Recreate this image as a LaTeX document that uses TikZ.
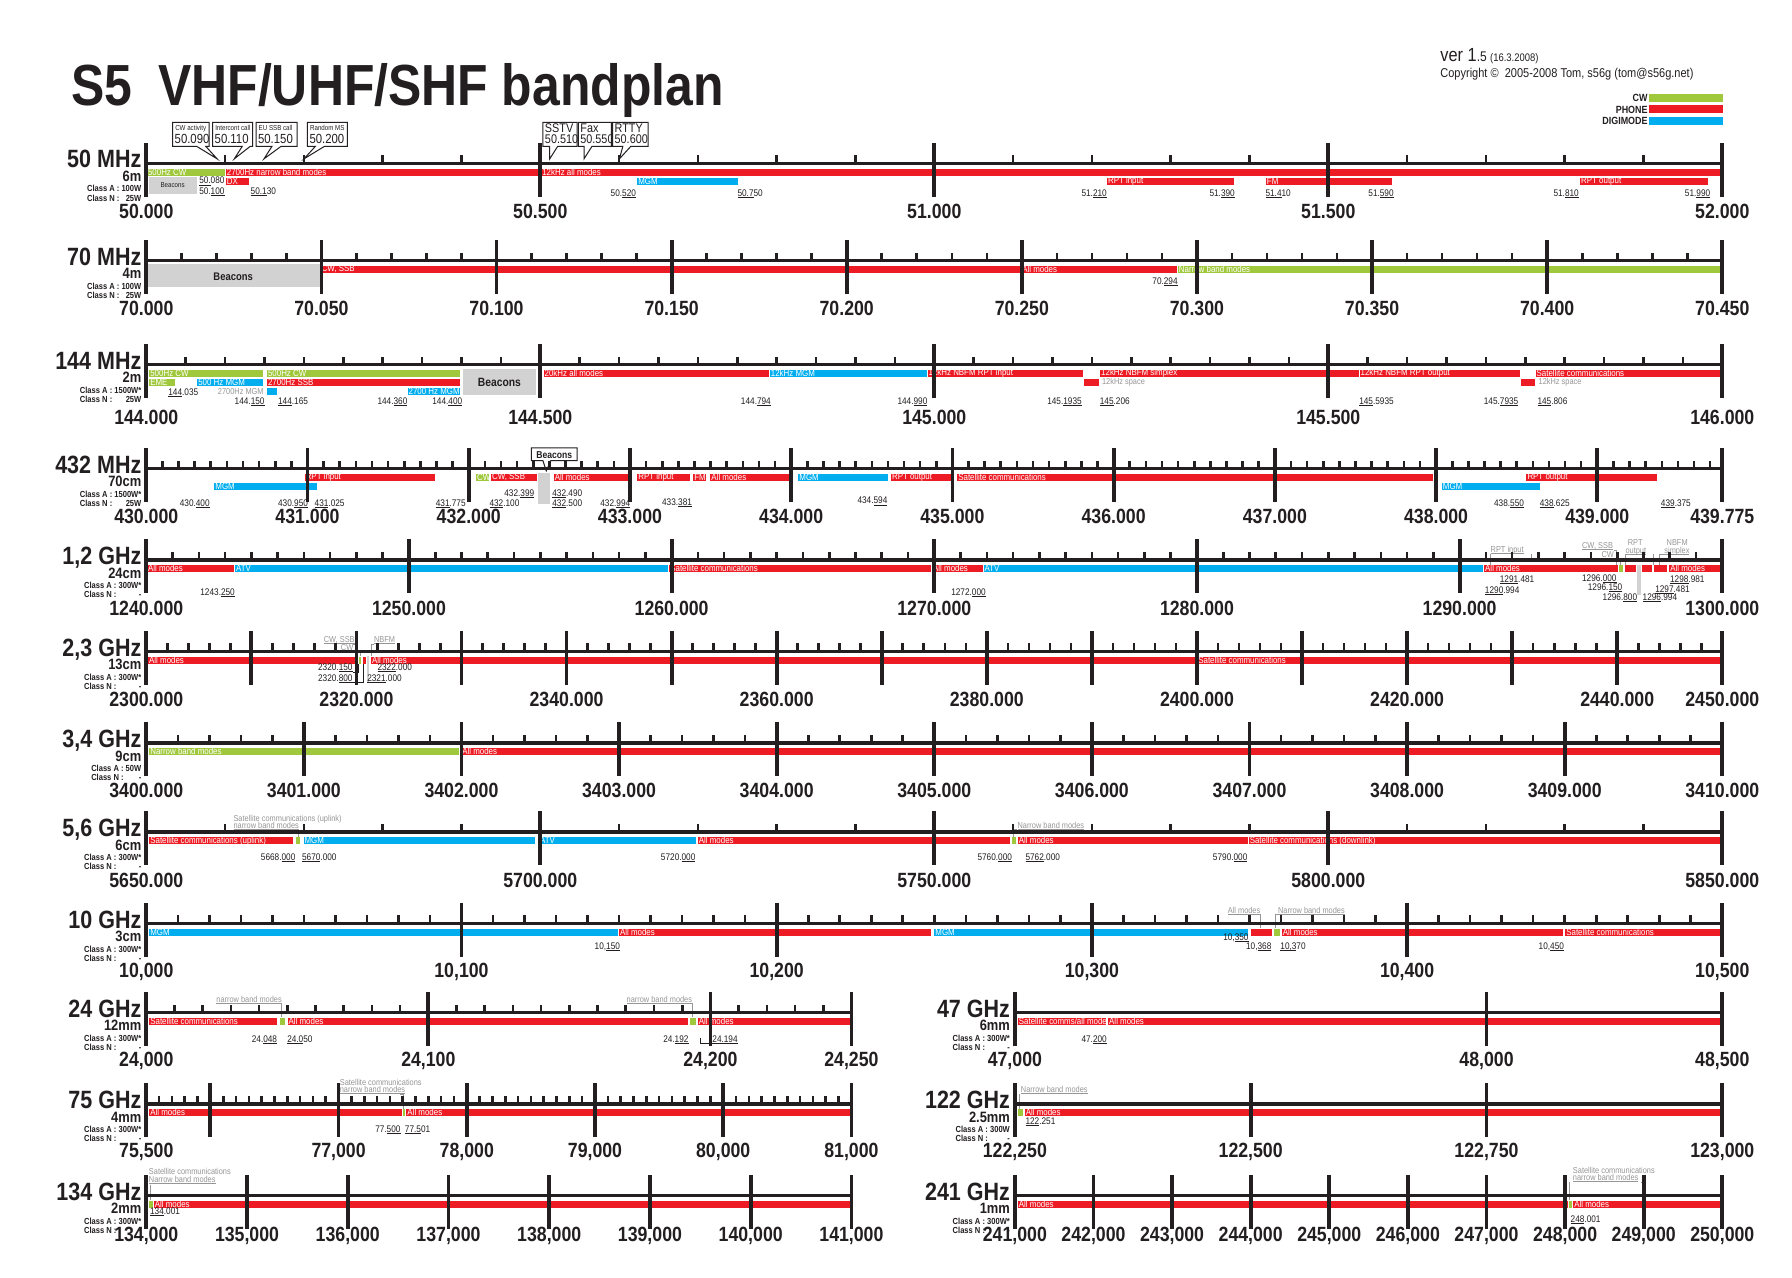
\documentclass[tikz,border=0pt]{standalone}
\usepackage{fontspec}
\setmainfont{Liberation Sans}
\newfontfamily\cf[FakeStretch=0.86]{Liberation Sans}
\definecolor{ink}{RGB}{35,31,32}
\definecolor{cwg}{RGB}{160,200,60}
\definecolor{phr}{RGB}{237,28,36}
\definecolor{dgb}{RGB}{0,174,239}
\definecolor{bcn}{RGB}{210,210,210}
\definecolor{agr}{RGB}{150,150,150}
\newcommand\fs[1]{\fontsize{#1}{#1}\selectfont}
\newlength\ulw
\newcommand\ulx[1]{\settowidth\ulw{#1}\rlap{\rule[-0.6pt]{\ulw}{0.3pt}}#1\relax}
\tikzset{
 xaxis/.style={draw=ink,line width=1.7pt},
 btick/.style={draw=ink,line width=1.9pt},
 stick/.style={draw=ink,line width=1.3pt},
 flab/.style={font=\cf\bfseries\fs{10.3},text=ink,inner sep=0pt},
 bname/.style={font=\cf\bfseries\fs{12.5},text=ink,inner sep=0pt,anchor=base east},
 wlab/.style={font=\cf\bfseries\fs{7.5},text=ink,inner sep=0pt,anchor=base east},
 clab/.style={font=\cf\bfseries\fs{4.4},text=ink,inner sep=0pt},
 btxt/.style={font=\cf\fs{4.6},text=white,inner sep=0pt,anchor=west},
 nlab/.style={font=\cf\fs{4.8},text=ink,inner sep=0pt,anchor=base west},
 anno/.style={font=\cf\fs{4.3},text=agr,inner sep=0pt,anchor=base west},
 aline/.style={draw=agr,line width=0.45pt},
 cbox/.style={draw=ink,line width=0.5pt,fill=white},
 barfill/.style={draw=white,line width=0.3pt},
}
% bar: x1 x2 row colour text
\newcommand\B[5]{%
 \fill[#4,barfill] (#1,{\Y+4+8*(#3-1)}) rectangle (#2,{\Y+11+8*(#3-1)});
 \node[btxt] at ({#1+1.2},{\Y+7.6+8*(#3-1)}) {#5};}
\newcommand\NL[3]{\node[nlab] at (#1,{\Y+#2}) {#3};}
\newcommand\AN[3]{\node[anno] at (#1,{\Y+#2}) {#3};}
\newcommand\axl[2]{\draw[xaxis] (#1,\Y) -- (#2,\Y);}
\newcommand\smallticks[3]{\foreach \i in {0,...,#3} {\draw[stick] ({#1+\i*#2},\Y) -- ({#1+\i*#2},{\Y-7});}}
\newcommand\bigticks[3]{\foreach \i in {0,...,#3} {\draw[btick] ({#1+\i*#2},{\Y-18}) -- ({#1+\i*#2},{\Y+29});}}
\newcommand\bt[1]{\draw[btick] (#1,{\Y-18}) -- (#1,{\Y+29});}
\def\FLoff{42}
\newcommand\FL[2]{\node[flab] at (#1,{\Y+\FLoff}) {#2};}
\newcommand\BN[6]{%
 \node[bname] at (#1,{\Y+4}) {#2};
 \node[wlab] at (#1,{\Y+16}) {#3};
 \node[clab,anchor=base east] (ca) at (#1,{\Y+25}) {#4};
 \path (ca.base west) ++(0,8) node[clab,anchor=base west] {#5};
 \node[clab,anchor=base east] at (#1,{\Y+33}) {#6};}
% callout: x1 x2 tailbase1 tailbase2 tip small big
\newcommand\CO[7]{%
 \draw[cbox] (#1,107) -- (#2,107) -- (#2,128) -- (#4,128) -- (#5,139) -- (#3,128) -- (#1,128) -- cycle;
 \node[font=\cf\fs{3.6},text=ink,anchor=base west,inner sep=0] at ({#1+2},114) {#6};
 \node[font=\cf\fs{6.6},text=ink,anchor=base west,inner sep=0] at ({#1+1.5},125.5) {#7};}
\newcommand\COb[7]{%
 \draw[cbox] (#1,107) -- (#2,107) -- (#2,128) -- (#4,128) -- (#5,139) -- (#3,128) -- (#1,128) -- cycle;
 \node[font=\cf\fs{6.3},text=ink,anchor=base west,inner sep=0] at ({#1+1.5},116) {#6};
 \node[font=\cf\fs{6.3},text=ink,anchor=base west,inner sep=0] at ({#1+1.5},125.5) {#7};}

\begin{document}
\begin{tikzpicture}[x=0.5714pt,y=-0.5714pt]
\let\underline\ulx
\useasboundingbox (0,0) rectangle (1568,1118);
\fill[white] (0,0) rectangle (1568,1118);

% ---------- header
\node[font=\cf\bfseries\fs{29},text=ink,anchor=base west,inner sep=0] (title) at (62,92) {S5\hspace{0.45em}VHF/UHF/SHF bandplan};
\node[anchor=base west,inner sep=0,text=ink] (ver) at (1260,54) {\cf\fs{9.5}ver 1\fs{7}.5 \fs{5.5}(16.3.2008)};
\node[anchor=base west,inner sep=0,text=ink,font=\cf\fs{6.4}] (copy) at (1260,68) {Copyright \textcopyright\ \ 2005-2008 Tom, s56g (tom@s56g.net)};
\node[clab,font=\cf\bfseries\fs{5.2},anchor=base east] (lcw) at (1442,89) {CW};
\fill[cwg] (1443,82) rectangle (1508,89);
\node[clab,font=\cf\bfseries\fs{5.2},anchor=base east] (lph) at (1442,99) {PHONE};
\fill[phr] (1443,92) rectangle (1508,99);
\node[clab,font=\cf\bfseries\fs{5.2},anchor=base east] (ldg) at (1442,109) {DIGIMODE};
\fill[dgb] (1443,102) rectangle (1508,109);

% ================= 50 MHz
\def\Y{143}
\B{128}{197}{1}{cwg}{500Hz CW}
\B{197}{473}{1}{phr}{2700Hz narrow band modes}
\B{473}{1507}{1}{phr}{12kHz all modes}
\fill[bcn] (130,{\Y+12}) rectangle (172,{\Y+27});
\node[font=\cf\fs{3.6},text=ink,inner sep=0] at (151,{\Y+19}) {Beacons};
\B{197}{218}{2}{phr}{DX}
\B{557}{646}{2}{dgb}{MGM}
\B{968}{1080}{2}{phr}{RPT input}
\B{1107}{1218}{2}{phr}{FM}
\B{1382}{1495}{2}{phr}{RPT output}
\NL{174}{18}{\underline{50.}080}
\NL{174}{27}{50.\underline{100}}
\NL{219}{27}{\underline{50.1}30}
\NL{534}{29}{50.\underline{520}}
\NL{645}{29}{\underline{50.7}50}
\NL{946}{29}{51.\underline{210}}
\NL{1058}{29}{51.\underline{390}}
\NL{1107}{29}{\underline{51.4}10}
\NL{1197}{29}{51.\underline{590}}
\NL{1359}{29}{51.\underline{810}}
\NL{1474}{29}{51.\underline{990}}
\axl{128}{1507}
\smallticks{128}{68.95}{20}
\bigticks{128}{344.75}{4}
\foreach \i/\t in {0/50.000,1/50.500,2/51.000,3/51.500,4/52.000} {\FL{{128+\i*344.75}}{\t}}
\BN{124}{50 MHz}{6m}{Class A : 100W}{Class N :}{25W}
\CO{151}{183}{172}{180}{190}{CW activity}{50.090}
\CO{186}{221}{212}{219}{205}{Intercont call}{50.110}
\CO{224}{260}{238}{246}{231}{EU SSB call}{50.150}
\CO{269}{304}{276}{284}{266}{Random MS}{50.200}
\COb{475}{505}{481}{488}{481}{SSTV}{50.510}
\COb{506}{535}{511}{518}{511}{Fax}{50.550}
\COb{536}{567}{545}{552}{542}{RTTY}{50.600}

% ================= 70 MHz
\def\Y{228}
\fill[bcn] (128,{\Y+3}) rectangle (280,{\Y+23});
\node[font=\cf\bfseries\fs{5.5},text=ink,inner sep=0] at (204,{\Y+14}) {Beacons};
\B{280}{893}{1}{phr}{CW, SSB}
\B{893}{1030}{1}{phr}{All modes}
\B{1030}{1507}{1}{cwg}{Narrow band modes}
\NL{1008}{21}{70.\underline{294}}
\axl{128}{1507}
\smallticks{128}{30.6444}{45}
\bigticks{128}{153.222}{9}
\foreach \i/\t in {0/70.000,1/70.050,2/70.100,3/70.150,4/70.200,5/70.250,6/70.300,7/70.350,8/70.400,9/70.450} {\FL{{128+\i*153.222}}{\t}}
\BN{124}{70 MHz}{4m}{Class A : 100W}{Class N :}{25W}

% ================= 144 MHz
\def\Y{319}
\B{130}{230}{1}{cwg}{500Hz CW}
\B{233}{403}{1}{cwg}{500Hz CW}
\B{475}{673}{1}{phr}{20kHz all modes}
\B{673}{811}{1}{dgb}{12kHz MGM}
\B{811}{948}{1}{phr}{12kHz NBFM RPT input}
\B{962}{1189}{1}{phr}{12kHz NBFM simplex}
\B{1189}{1330}{1}{phr}{12kHz NBFM RPT output}
\B{1343}{1507}{1}{phr}{Satellite communications}
\B{130}{153}{2}{cwg}{EME}
\B{172}{230}{2}{dgb}{500 Hz MGM}
\B{233}{403}{2}{phr}{2700Hz SSB}
\B{948}{962}{2}{phr}{}
\AN{964}{17.5}{12kHz space}
\B{1330}{1343}{2}{phr}{}
\AN{1346}{17.5}{12kHz space}
\B{233}{243}{3}{dgb}{}
\node[anno,anchor=base east] at (231,{\Y+26}) {2700Hz MGM};
\B{356}{403}{3}{dgb}{2700 Hz MGM}
\fill[bcn] (405,{\Y+4}) rectangle (469,{\Y+27});
\node[font=\cf\bfseries\fs{6},text=ink,inner sep=0] at (437,{\Y+16}) {Beacons};
\NL{147}{27}{\underline{144}.035}
\NL{205}{35}{144.\underline{150}}
\NL{243}{35}{\underline{144}.165}
\NL{330}{35}{144.\underline{360}}
\NL{378}{35}{144.\underline{400}}
\NL{648}{35}{144.\underline{794}}
\NL{785}{35}{144.\underline{990}}
\NL{916}{35}{145.\underline{1935}}
\NL{962}{35}{\underline{145}.206}
\NL{1189}{35}{\underline{145}.5935}
\NL{1298}{35}{145.\underline{7935}}
\NL{1345}{35}{\underline{145}.806}
\axl{128}{1507}
\smallticks{128}{34.475}{40}
\bigticks{128}{344.75}{4}
\def\FLoff{46}
\foreach \i/\t in {0/144.000,1/144.500,2/145.000,3/145.500,4/146.000} {\FL{{128+\i*344.75}}{\t}}
\def\FLoff{42}
\BN{124}{144 MHz}{2m}{Class A : 1500W*}{Class N :}{25W}

% ================= 432 MHz
\def\Y{410}
\B{266}{381}{1}{phr}{RPT input}
\B{416}{428}{1}{cwg}{CW}
\B{429}{470}{1}{phr}{CW, SSB}
\B{484}{551}{1}{phr}{All modes}
\B{557}{604}{1}{phr}{RPT input}
\B{606}{618}{1}{phr}{FM}
\B{621}{691}{1}{phr}{All modes}
\B{698}{777}{1}{dgb}{MGM}
\B{779}{833}{1}{phr}{RPT output}
\B{837}{1254}{1}{phr}{Satellite communications}
\B{1335}{1450}{1}{phr}{RPT output}
\B{187}{278}{2}{dgb}{MGM}
\B{1261}{1348}{2}{dgb}{MGM}
\fill[bcn] (471,{\Y+4}) rectangle (481,{\Y+31});
\draw[cbox] (465,392) -- (505,392) -- (505,403) -- (482,403) -- (478,412) -- (475,403) -- (465,403) -- cycle;
\node[font=\cf\bfseries\fs{5},text=ink,inner sep=0] at (485,397.8) {Beacons};
\NL{157}{33}{430.\underline{400}}
\NL{243}{33}{430.\underline{950}}
\NL{275}{33}{\underline{431}.025}
\NL{381}{33}{\underline{431}.775}
\NL{428}{33}{\underline{432}.100}
\NL{441}{24}{432.\underline{399}}
\NL{483}{24}{\underline{432}.490}
\NL{483}{33}{\underline{432}.500}
\NL{525}{33}{432.\underline{994}}
\NL{579}{32}{433.\underline{381}}
\NL{750}{31}{434.\underline{594}}
\NL{1307}{33}{438.\underline{550}}
\NL{1347}{33}{\underline{438}.625}
\NL{1453}{33}{\underline{439}.375}
\axl{128}{1507}
\smallticks{128}{14.107}{97}
\bigticks{128}{141.07}{9}
\bt{1507}
\foreach \i/\t in {0/430.000,1/431.000,2/432.000,3/433.000,4/434.000,5/435.000,6/436.000,7/437.000,8/438.000,9/439.000} {\FL{{128+\i*141.07}}{\t}}
\FL{1507}{439.775}
\BN{124}{432 MHz}{70cm}{Class A : 1500W*}{Class N :}{25W}

% ================= 1.2 GHz
\def\Y{490}
\B{128}{205}{1}{phr}{All modes}
\B{205}{585}{1}{dgb}{ATV}
\B{585}{815}{1}{phr}{Satellite communications}
\B{815}{860}{1}{phr}{All modes}
\B{860}{1298}{1}{dgb}{ATV}
\B{1298}{1416}{1}{phr}{All modes}
\B{1416}{1420}{1}{cwg}{}
\B{1421}{1432}{1}{phr}{}
\B{1436}{1446}{1}{phr}{}
\B{1447}{1459}{1}{phr}{}
\B{1460}{1505}{1}{phr}{All modes}
\fill[bcn] (1432.5,{\Y+4}) rectangle (1435.5,{\Y+31});
\AN{1304}{-7}{\underline{RPT input}}
\draw[aline] (1304,{\Y-5}) -- (1304,{\Y+4});
\draw[aline] (1340,{\Y-5}) -- (1340,\Y);
\AN{1384}{-10}{\underline{CW, SSB}}
\draw[aline] (1412,{\Y-8}) -- (1414,{\Y-8}) -- (1414,{\Y+4});
\AN{1401}{-2}{\underline{CW}}
\draw[aline] (1412,{\Y}) -- (1418,{\Y}) -- (1418,{\Y+4});
\AN{1424}{-13}{RPT}
\AN{1422}{-6}{\underline{output}}
\draw[aline] (1422,{\Y-5}) -- (1422,{\Y+4});
\draw[aline] (1447,{\Y-5}) -- (1447,{\Y+4});
\AN{1458}{-13}{NBFM}
\AN{1456}{-6}{\underline{simplex}}
\draw[aline] (1456,{\Y-5}) -- (1452,{\Y-5}) -- (1452,{\Y+4});
\NL{175}{31}{1243.\underline{250}}
\NL{832}{31}{1272.\underline{000}}
\NL{1312}{20}{\underline{1291}.481}
\NL{1299}{29}{\underline{1290}.994}
\NL{1384}{19}{1296.\underline{000}}
\NL{1389}{27}{1296.\underline{150}}
\NL{1402}{35}{1296.\underline{800}}
\NL{1437}{35}{\underline{1296}.994}
\NL{1448}{28}{\underline{1297}.481}
\NL{1461}{20}{\underline{1298}.981}
\axl{128}{1507}
\smallticks{128}{22.9833}{60}
\bigticks{128}{229.833}{6}
\foreach \i/\t in {0/1240.000,1/1250.000,2/1260.000,3/1270.000,4/1280.000,5/1290.000,6/1300.000} {\FL{{128+\i*229.833}}{\t}}
\BN{124}{1,2 GHz}{24cm}{Class A : 300W*}{Class N :}{-\hspace{21pt}}

% ================= 2.3 GHz
\def\Y{570}
\B{129}{312}{1}{phr}{All modes}
\B{313.5}{316.5}{1}{cwg}{}
\B{317}{320.5}{1}{phr}{}
\fill[bcn] (321,{\Y+4}) rectangle (323,{\Y+27});
\B{324}{1047}{1}{phr}{All modes}
\B{1047}{1507}{1}{phr}{Satellite communications}
\AN{283}{-8}{\underline{CW, SSB}}
\draw[aline] (309,{\Y-6.5}) -- (312,{\Y-6.5}) -- (312,{\Y+4});
\AN{298}{-1}{\underline{CW}}
\draw[aline] (309,{\Y+0.5}) -- (315,{\Y+0.5}) -- (315,{\Y+4});
\AN{327}{-8}{\underline{NBFM}}
\draw[aline] (327,{\Y-6.5}) -- (325,{\Y-6.5}) -- (325,{\Y+4});
\NL{278}{17}{2320.\underline{150}}
\NL{278}{26}{2320.\underline{800}}
\NL{330}{17}{\underline{2322}.000}
\NL{321}{26}{\underline{2321}.000}
\draw[draw=ink,line width=0.4pt] (309,{\Y+18.5}) -- (314,{\Y+18.5}) -- (314,{\Y+11});
\draw[draw=ink,line width=0.4pt] (309,{\Y+27.5}) -- (318,{\Y+27.5}) -- (318,{\Y+11});
\axl{128}{1507}
\smallticks{128}{18.3867}{75}
\bigticks{128}{91.9333}{15}
\foreach \i/\t in {0/2300.000,1/2320.000,2/2340.000,3/2360.000,4/2380.000,5/2400.000,6/2420.000,7/2440.000} {\FL{{128+\i*183.867}}{\t}}
\FL{1507}{2450.000}
\BN{124}{2,3 GHz}{13cm}{Class A : 300W*}{Class N :}{-\hspace{21pt}}

% ================= 3.4 GHz
\def\Y{650}
\B{130}{402}{1}{cwg}{Narrow band modes}
\B{403}{1507}{1}{phr}{All modes}
\axl{128}{1507}
\smallticks{128}{27.58}{50}
\bigticks{128}{137.9}{10}
\foreach \i/\t in {0/3400.000,1/3401.000,2/3402.000,3/3403.000,4/3404.000,5/3405.000,6/3406.000,7/3407.000,8/3408.000,9/3409.000,10/3410.000} {\FL{{128+\i*137.9}}{\t}}
\BN{124}{3,4 GHz}{9cm}{Class A : 50W}{Class N :}{-\hspace{9pt}}

% ================= 5.6 GHz
\def\Y{728}
\B{130}{257}{1}{phr}{Satellite communications (uplink)}
\B{258.5}{262.5}{1}{cwg}{}
\B{265}{468}{1}{dgb}{MGM}
\B{471}{609}{1}{dgb}{ATV}
\B{610}{884}{1}{phr}{All modes}
\B{884.5}{889}{1}{cwg}{}
\B{890}{1092}{1}{phr}{All modes}
\B{1092}{1507}{1}{phr}{Satellite communications (downlink)}
\AN{204}{-9}{Satellite communications (uplink)}
\AN{204}{-3}{\underline{narrow band modes}}
\draw[aline] (259,{\Y-2}) -- (261,{\Y-2}) -- (261,{\Y+4});
\AN{890}{-3}{\underline{Narrow band modes}}
\draw[aline] (890,{\Y-2}) -- (887,{\Y-2}) -- (887,{\Y+4});
\NL{228}{25}{5668.\underline{000}}
\NL{264}{25}{\underline{5670}.000}
\NL{578}{25}{5720.\underline{000}}
\NL{855}{25}{5760.\underline{000}}
\NL{897}{25}{\underline{5762}.000}
\NL{1061}{25}{5790.\underline{000}}
\axl{128}{1507}
\smallticks{128}{68.95}{20}
\bigticks{128}{344.75}{4}
\foreach \i/\t in {0/5650.000,1/5700.000,2/5750.000,3/5800.000,4/5850.000} {\FL{{128+\i*344.75}}{\t}}
\BN{124}{5,6 GHz}{6cm}{Class A : 300W*}{Class N :}{-\hspace{21pt}}

% ================= 10 GHz
\def\Y{808}
\B{130}{541}{1}{dgb}{MGM}
\B{541}{815}{1}{phr}{All modes}
\B{817}{1092}{1}{dgb}{MGM}
\B{1094}{1113}{1}{phr}{}
\B{1114}{1120}{1}{cwg}{}
\B{1121}{1368}{1}{phr}{All modes}
\B{1369}{1505}{1}{phr}{Satellite communications}
\AN{1074}{-9}{\underline{All modes}}
\draw[aline] (1100,{\Y-8}) -- (1103,{\Y-8}) -- (1103,{\Y+4});
\AN{1118}{-9}{\underline{Narrow band modes}}
\draw[aline] (1118,{\Y-8}) -- (1116,{\Y-8}) -- (1116,{\Y+4});
\NL{520}{23}{10,\underline{150}}
\NL{1070}{15}{10,\underline{350}}
\NL{1090}{23}{10,\underline{368}}
\NL{1120}{23}{\underline{10,3}70}
\NL{1346}{23}{10,\underline{450}}
\axl{128}{1507}
\smallticks{128}{27.58}{50}
\bigticks{128}{275.8}{5}
\foreach \i/\t in {0/{10,000},1/{10,100},2/{10,200},3/{10,300},4/{10,400},5/{10,500}} {\FL{{128+\i*275.8}}{\t}}
\BN{124}{10 GHz}{3cm}{Class A : 300W*}{Class N :}{-\hspace{21pt}}

% ================= 24 GHz
\def\Y{886}
\B{130}{243}{1}{phr}{Satellite communications}
\B{244}{250}{1}{cwg}{}
\B{251}{602}{1}{phr}{All modes}
\B{603}{609}{1}{cwg}{}
\B{610}{745}{1}{phr}{All modes}
\AN{189}{-9}{\underline{narrow band modes}}
\draw[aline] (243,{\Y-8}) -- (246,{\Y-8}) -- (246,{\Y+4});
\AN{548}{-9}{\underline{narrow band modes}}
\draw[aline] (603,{\Y-8}) -- (606,{\Y-8}) -- (606,{\Y+4});
\NL{220}{26}{24.\underline{048}}
\NL{251}{26}{\underline{24.0}50}
\NL{580}{26}{24.\underline{192}}
\NL{623}{26}{\underline{24.194}}
\draw[draw=ink,line width=0.4pt] (613,{\Y+22}) -- (613,{\Y+27}) -- (621,{\Y+27});
\axl{128}{745}
\smallticks{128}{24.68}{25}
\bigticks{128}{246.8}{2}
\bt{745}
\foreach \i/\t in {0/{24,000},1/{24,100},2/{24,200}} {\FL{{128+\i*246.8}}{\t}}
\FL{745}{24,250}
\BN{124}{24 GHz}{12mm}{Class A : 300W*}{Class N :}{-\hspace{21pt}}

% ================= 47 GHz
\B{890}{968}{1}{phr}{Satellite comms/all modes}
\B{969}{1507}{1}{phr}{All modes}
\NL{946}{26}{47.\underline{200}}
\axl{888}{1507}
\bt{888}\bt{1300.7}\bt{1507}
\FL{888}{47,000}\FL{1300.7}{48,000}\FL{1507}{48,500}
\BN{884}{47 GHz}{6mm}{Class A : 300W*}{Class N :}{-\hspace{21pt}}

% ================= 75 GHz
\def\Y{966}
\B{130}{352}{1}{phr}{All modes}
\B{352}{355}{1}{cwg}{}
\B{355}{745}{1}{phr}{All modes}
\AN{297}{-16}{Satellite communications}
\AN{297}{-10}{\underline{narrow band modes}}
\draw[aline] (297,{\Y-8.5}) -- (297,{\Y-2});
\draw[aline] (350,{\Y-8.5}) -- (353,{\Y-8.5}) -- (353,{\Y+4});
\NL{328}{25}{77.\underline{500}}
\NL{354}{25}{\underline{77.5}01}
\axl{128}{745}
\foreach \j in {5,...,60} {\draw[stick] ({71.91+\j*11.218},\Y) -- ({71.91+\j*11.218},{\Y-7});}
\bt{128}
\foreach \i in {1,...,6} {\bt{{71.91+\i*112.18}}}
\FL{128}{75,500}
\foreach \i/\t in {2/{77,000},3/{78,000},4/{79,000},5/{80,000},6/{81,000}} {\FL{{71.91+\i*112.18}}{\t}}
\BN{124}{75 GHz}{4mm}{Class A : 300W*}{Class N :}{-\hspace{21pt}}

% ================= 122 GHz
\B{890}{895}{1}{cwg}{}
\B{896}{1507}{1}{phr}{All modes}
\AN{893}{-10}{\underline{Narrow band modes}}
\draw[aline] (892,{\Y-8.5}) -- (892,{\Y+4});
\NL{897}{18}{\underline{122}.251}
\axl{888}{1507}
\foreach \i in {0,...,3} {\bt{{888+\i*206.333}}}
\foreach \i/\t in {0/{122,250},1/{122,500},2/{122,750},3/{123,000}} {\FL{{888+\i*206.333}}{\t}}
\BN{884}{122 GHz}{2.5mm}{Class A : 300W}{Class N :}{-\hspace{21pt}}

% ================= 134 GHz
\def\Y{1046}
\B{130}{134}{1}{cwg}{}
\B{134}{745}{1}{phr}{All modes}
\AN{130}{-18}{Satellite communications}
\AN{130}{-11}{\underline{Narrow band modes}}
\draw[aline] (132,{\Y-9.5}) -- (132,{\Y+4});
\NL{131}{17}{\underline{134}.001}
\axl{128}{745}
\bigticks{128}{88.1429}{7}
\foreach \i/\t in {0/{134,000},1/{135,000},2/{136,000},3/{137,000},4/{138,000},5/{139,000},6/{140,000},7/{141,000}} {\node[flab] at ({128+\i*88.1429},{\Y+35}) {\t};}
\BN{124}{134 GHz}{2mm}{Class A : 300W*}{Class N :}{-\hspace{21pt}}

% ================= 241 GHz
\B{890}{1372}{1}{phr}{All modes}
\B{1372}{1376}{1}{cwg}{}
\B{1376}{1507}{1}{phr}{All modes}
\AN{1376}{-19}{Satellite communications}
\AN{1376}{-13}{\underline{narrow band modes}}
\draw[aline] (1373,{\Y-11.5}) -- (1373,{\Y+4});
\draw[aline] (1436,{\Y-11.5}) -- (1440,{\Y-11.5}) -- (1440,{\Y-2});
\NL{1374}{24}{\underline{248}.001}
\axl{888}{1507}
\bigticks{888}{68.7778}{9}
\foreach \i/\t in {0/{241,000},1/{242,000},2/{243,000},3/{244,000},4/{245,000},5/{246,000},6/{247,000},7/{248,000},8/{249,000},9/{250,000}} {\node[flab] at ({888+\i*68.7778},{\Y+35}) {\t};}
\BN{884}{241 GHz}{1mm}{Class A : 300W*}{Class N :}{-\hspace{21pt}}
\end{tikzpicture}
\end{document}
